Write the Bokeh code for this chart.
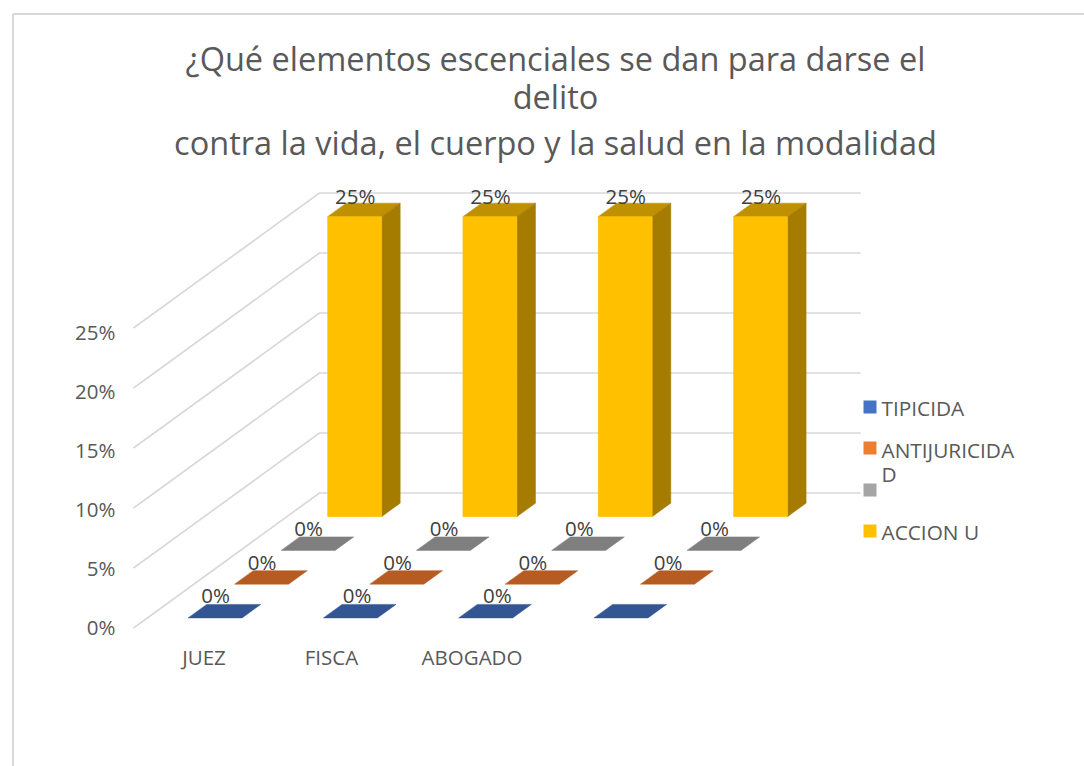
from bokeh.plotting import figure
from bokeh.models import Range1d
from bokeh.core.properties import value
from bokeh.embed import file_html
from bokeh.resources import INLINE

# ---- data ----
categories = ["JUEZ", "FISCA", "ABOGADO", ""]
series_names = ["TIPICIDA", "ANTIJURICIDAD", "", "ACCION U"]
tipicidad = [0, 0, 0, 0]
antijuricidad = [0, 0, 0, 0]
gris = [0, 0, 0, 0]
accion = [25, 25, 25, 25]
labels_tipicidad = ["0%", "0%", "0%", ""]
labels_antijuricidad = ["0%", "0%", "0%", "0%"]
labels_gris = ["0%", "0%", "0%", "0%"]
labels_accion = ["25%", "25%", "25%", "25%"]
y_ticks = [0, 5, 10, 15, 20, 25]
title_lines = ["¿Qué elementos escenciales se dan para darse el", "delito",
               "contra la vida, el cuerpo y la salud en la modalidad"]

# ---- styles / layout ----
FONT = value("Open Sans")
front_cols = ["#4472C4", "#ED7D31", "#A5A5A5", "#FFC000"]
top_cols = ["#335593", "#B65C22", "#7F7F7F", "#BF9000"]
side_cols = ["#264478", "#9E480E", "#636363", "#A67C00"]
GRID = "#D9D9D9"
TXT = "#595959"
LBL = "#404040"
SMALL = "20.5px"

X0, Y0 = 133.0, 627.5      # front-left floor corner (page pixels)
CAT_W = 135.3              # page px per category
DX, DY = 186.0, 135.0      # page px for the full depth of the floor
PX_PER_PCT = 12.0
BAR_W = 54.0
BAR_GAP = (CAT_W - BAR_W) / 2
SER_D = 0.25
BAR_D = 0.10
FRONT_LABEL_SHIFT = [0, 6, 11, 0]   # the front row's labels drift right in the reference


def proj(cat, ser_depth, val):
    """category position, depth (0..1) and percentage -> page pixels"""
    return (X0 + cat * CAT_W + ser_depth * DX,
            Y0 - ser_depth * DY - val * PX_PER_PCT)


p = figure(width=1084, height=766, output_backend="svg", toolbar_location=None,
           x_range=Range1d(0, 1084), y_range=Range1d(766, 0),
           min_border=0, outline_line_color=None, background_fill_color="white")
p.axis.visible = False
p.grid.visible = False

# chart frame
p.segment([12.5, 12.5], [13.5, 13.5], [1084, 12.5], [13.5, 766], line_color=GRID, line_width=2)

# gridlines
n_cats = len(categories)
for t in y_ticks:
    fx, fy = proj(0, 0, t)
    bx, by = proj(0, 1, t)
    ex, ey = proj(n_cats, 1, t)
    p.line([fx, bx, ex], [fy, by, ey], line_color=GRID, line_width=1.7)

# bars, back to front
all_vals = [tipicidad, antijuricidad, gris, accion]
all_labels = [labels_tipicidad, labels_antijuricidad, labels_gris, labels_accion]
for s in (3, 2, 1, 0):
    d0 = s * SER_D + (SER_D - BAR_D) / 2
    d1 = d0 + BAR_D
    for c in range(n_cats):
        v = all_vals[s][c]
        cl = c + BAR_GAP / CAT_W
        cr = cl + BAR_W / CAT_W
        pts_top = [proj(cl, d0, v), proj(cr, d0, v), proj(cr, d1, v), proj(cl, d1, v)]
        p.patch([q[0] for q in pts_top], [q[1] for q in pts_top], fill_color=top_cols[s],
                line_color=top_cols[s], line_width=0.5)
        if v > 0:
            side = [proj(cr, d0, 0), proj(cr, d1, 0), proj(cr, d1, v), proj(cr, d0, v)]
            p.patch([q[0] for q in side], [q[1] for q in side], fill_color=side_cols[s],
                    line_color=side_cols[s], line_width=0.5)
            front = [proj(cl, d0, 0), proj(cr, d0, 0), proj(cr, d0, v), proj(cl, d0, v)]
            p.patch([q[0] for q in front], [q[1] for q in front], fill_color=front_cols[s],
                    line_color=front_cols[s], line_width=0.5)
        lab = all_labels[s][c]
        if lab:
            lx, ly = proj((cl + cr) / 2, d1, v)
            lx += FRONT_LABEL_SHIFT[c] if s == 0 else 0
            p.text([lx - 18], [ly - (7 if v > 0 else 9)], text=[lab], text_font=FONT,
                   text_font_size=SMALL, text_color=LBL, text_align="center",
                   text_baseline="middle")

# value axis labels
LABEL_STEP = 59.0
p.text([115] * len(y_ticks), [626.5 - i * LABEL_STEP for i in range(len(y_ticks))],
       text=[f"{t}%" for t in y_ticks], text_font=FONT, text_font_size=SMALL,
       text_color=TXT, text_align="right", text_baseline="middle")

# category labels
CAT_LABEL_X = [203.5, 331, 471.5]
shown = [c for c in categories if c]
p.text(CAT_LABEL_X, [656.5] * len(shown), text=shown, text_font=FONT, text_font_size=SMALL,
       text_color=TXT, text_align="center", text_baseline="middle")

# legend
LEG_Y = [406.5, 447.5, 489.5, 530.5]
p.rect([869.5] * 4, LEG_Y, width=13, height=13, fill_color=front_cols, line_color=None)
p.text([881, 881, 881, 881],
       [407.5, 449.5, 473.5, 531.5],
       text=[series_names[0], series_names[1][:-1], series_names[1][-1], series_names[3]],
       text_font=FONT, text_font_size="20.8px", text_color=TXT, text_align="left",
       text_baseline="middle")

# title
p.text([555] * 3, [57.5, 95.5, 141.5], text=title_lines, text_font=FONT, text_font_size="32.5px",
       text_color=TXT, text_align="center", text_baseline="middle")

open("out.html", "w").write(file_html(p, INLINE))
